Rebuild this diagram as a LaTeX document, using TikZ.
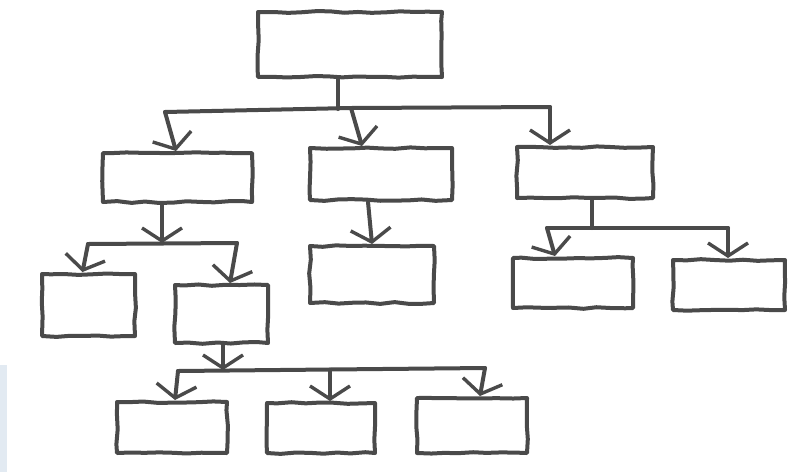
\documentclass[tikz,border=0pt]{standalone}
\usetikzlibrary{arrows.meta,decorations.pathmorphing}
\definecolor{ink}{HTML}{4A4A4A}
\definecolor{edgeblue}{HTML}{E2EAF2}
\begin{document}
\begin{tikzpicture}[x=1pt,y=-1pt,
  ink/.style={draw=ink,line width=4pt,line join=round,line cap=round},
  sketchbox/.style={ink,rectangle,inner sep=0pt,fill=white,
    decorate,decoration={random steps,segment length=14pt,amplitude=0.9pt}},
  arr/.style={ink,-{Straight Barb[length=13pt,width=40pt,line width=3.4pt]}},
  bus/.style={ink}]
\pgfmathsetseed{7}
\useasboundingbox (0,0) rectangle (810,472);
\fill[edgeblue] (0,365) rectangle (7,472);
% boxes
\node[sketchbox,minimum width=184pt,minimum height=65pt] (root) at (350,44.5) {};
\node[sketchbox,minimum width=149pt,minimum height=49pt] (A) at (177.5,177.5) {};
\node[sketchbox,minimum width=142pt,minimum height=52pt] (B) at (381,174) {};
\node[sketchbox,minimum width=136pt,minimum height=51pt] (C) at (585,172.5) {};
\node[sketchbox,minimum width=93pt,minimum height=62pt] (A1) at (88.5,305) {};
\node[sketchbox,minimum width=93pt,minimum height=58pt] (A2) at (221.5,314) {};
\node[sketchbox,minimum width=124pt,minimum height=57pt] (B1) at (372,274.5) {};
\node[sketchbox,minimum width=120pt,minimum height=50pt] (C1) at (573,283) {};
\node[sketchbox,minimum width=112pt,minimum height=50pt] (C2) at (729,285) {};
\node[sketchbox,minimum width=110pt,minimum height=51pt] (D1) at (172,427.5) {};
\node[sketchbox,minimum width=108pt,minimum height=50pt] (D2) at (321,428) {};
\node[sketchbox,minimum width=110pt,minimum height=55pt] (D3) at (472,425.5) {};
% root level
\coordinate (r0) at (338,109);
\coordinate (rl) at (165,112);
\coordinate (rm) at (351,108);
\coordinate (rr) at (550,107);
\draw[bus] ([xshift=-12pt]root.south) -- (r0);
\draw[bus] (rl) -- (rm) -- (rr);
\draw[arr] (rl) -- ([xshift=-1.5pt]A.north);
\draw[arr] (rm) -- ([xshift=-19pt]B.north);
\draw[arr] (rr) -- ([xshift=-35pt]C.north);
% A level
\coordinate (a0) at (162,243);
\coordinate (al) at (88,244);
\coordinate (ar) at (237,243);
\draw[arr] ([xshift=-15.5pt]A.south) -- (a0);
\draw[bus] (al) -- (ar);
\draw[arr] (al) -- ([xshift=-6pt]A1.north);
\draw[arr] (ar) -- ([xshift=8.5pt]A2.north);
% A2 level
\coordinate (d0) at (223,370);
\coordinate (dl) at (178,371);
\coordinate (dm) at (330,369.5);
\coordinate (dr) at (485,368);
\draw[arr] ([xshift=1.5pt]A2.south) -- (d0);
\draw[bus] (dl) -- (dm) -- (dr);
\draw[arr] (dl) -- ([xshift=3pt]D1.north);
\draw[arr] (dm) -- ([xshift=9pt]D2.north);
\draw[arr] (dr) -- ([xshift=8pt]D3.north);
% B level
\draw[arr] ([xshift=-13pt]B.south) -- ([xshift=0pt]B1.north);
% C level
\coordinate (c0) at (592,228);
\coordinate (cl) at (547,228);
\coordinate (cr) at (728,228);
\draw[bus] ([xshift=7pt]C.south) -- (c0);
\draw[bus] (cl) -- (cr);
\draw[arr] (cl) -- ([xshift=-18pt]C1.north);
\draw[arr] (cr) -- ([xshift=-1pt]C2.north);
\end{tikzpicture}
\end{document}
